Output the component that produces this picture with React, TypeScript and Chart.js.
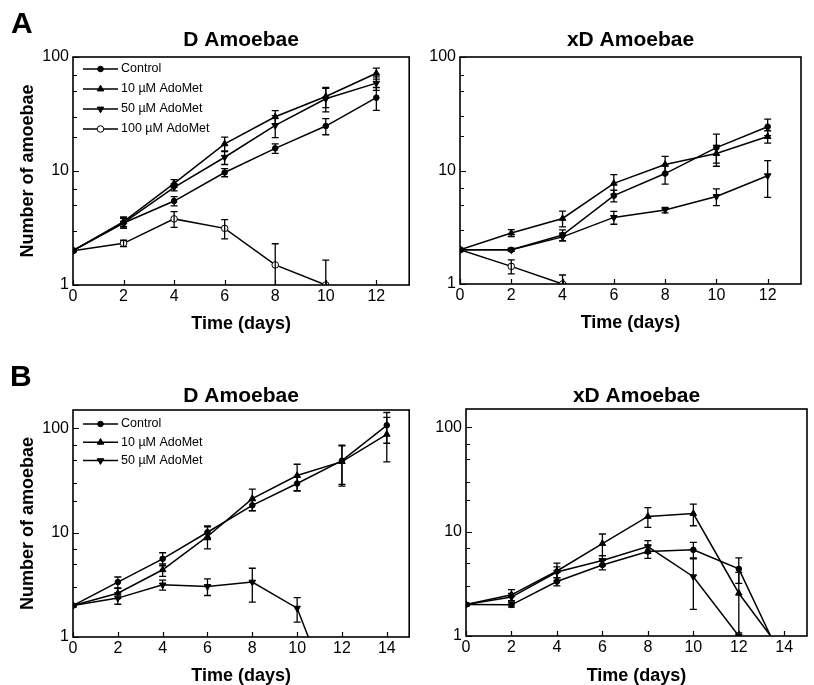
import React, { useEffect, useRef } from 'react';
import { Chart, registerables } from 'chart.js';

Chart.register(...registerables);

const FONT = "'Liberation Sans', Arial, Helvetica, sans-serif";

// ---------- tick labels ----------
const Y_TICKS = [1, 10, 100];
const Y_MINOR = [2, 3, 5, 7];
const X_TICKS_A = [0, 2, 4, 6, 8, 10, 12];
const X_TICKS_B = [0, 2, 4, 6, 8, 10, 12, 14];

// ---------- Panel A : D amoebae ----------
const DAYS_A = [0, 2, 4, 6, 8, 10, 12];
const A_D_CONTROL = [2, 3.5, 5.45, 9.7, 15.8, 24.8, 44];
const A_D_CONTROL_ERR = [0, 0.35, 0.5, 0.8, 1.5, 4, 10];
const A_D_10 = [2, 3.6, 7.8, 17.3, 29.9, 45, 72];
const A_D_10_ERR = [0, 0.35, 0.6, 2.5, 4, 9, 8];
const A_D_50 = [2, 3.5, 7.2, 13.2, 25.1, 43, 59];
const A_D_50_ERR = [0, 0.35, 0.5, 1.8, 5.5, 10, 8];
const A_D_100_DAYS = [0, 2, 4, 6, 8, 10];
const A_D_100 = [2, 2.32, 3.8, 3.14, 1.5, 1.0];
const A_D_100_ERR = [0, 0.15, 0.6, 0.6, 0.8, 0.65];

// ---------- Panel A : xD amoebae ----------
const A_XD_CONTROL = [2, 2.0, 2.7, 6.0, 9.4, 15.9, 24.3];
const A_XD_CONTROL_ERR = [0, 0.05, 0.3, 0.7, 1.8, 5, 4];
const A_XD_10 = [2, 2.81, 3.78, 7.7, 11.3, 14.1, 19.9];
const A_XD_10_ERR = [0, 0.2, 0.6, 1.5, 2, 2.5, 2.5];
const A_XD_50 = [2, 2.0, 2.6, 3.86, 4.49, 5.9, 9.0];
const A_XD_50_ERR = [0, 0.05, 0.2, 0.5, 0.25, 1, 3.2];
const A_XD_100_DAYS = [0, 2, 4];
const A_XD_100 = [2, 1.43, 1.0];
const A_XD_100_ERR = [0, 0.2, 0.2];

// ---------- Panel B : D amoebae ----------
const DAYS_B = [0, 2, 4, 6, 8, 10, 12, 14];
const B_D_CONTROL = [2, 3.36, 5.62, 10.1, 18.3, 29.6, 49, 107];
const B_D_CONTROL_ERR = [0, 0.4, 0.8, 1.5, 2, 4.5, 20, 35];
const B_D_10 = [2, 2.63, 4.41, 9.2, 21.2, 35.3, 48, 87.7];
const B_D_10_ERR = [0, 0.3, 0.6, 2.2, 5, 10, 20, 40];
const B_D_50_DAYS = [0, 2, 4, 6, 8, 10, 10.5];
const B_D_50 = [2, 2.36, 3.16, 3.05, 3.36, 1.89, 1];
const B_D_50_ERR = [0, 0.3, 0.35, 0.55, 1.2, 0.5, 0];

// ---------- Panel B : xD amoebae ----------
const B_XD_CONTROL_DAYS = [0, 2, 4, 6, 8, 10, 12, 13.4];
const B_XD_CONTROL = [2, 1.99, 3.33, 4.8, 6.46, 6.7, 4.4, 1];
const B_XD_CONTROL_ERR = [0, 0.1, 0.3, 0.5, 0.9, 1.2, 1.2, 0];
const B_XD_10_DAYS = [0, 2, 4, 6, 8, 10, 12, 13.4];
const B_XD_10 = [2, 2.48, 4.2, 7.7, 14.0, 14.9, 2.57, 1];
const B_XD_10_ERR = [0, 0.3, 0.8, 1.8, 3, 3.5, 1.5, 0];
const B_XD_50_DAYS = [0, 2, 4, 6, 8, 10, 12];
const B_XD_50 = [2, 2.36, 4.1, 5.3, 7.2, 3.7, 1.0];
const B_XD_50_ERR = [0, 0.2, 0.5, 0.6, 1.0, 1.9, 0];

const LABEL_CONTROL = 'Control';
const LABEL_10 = '10 µM AdoMet';
const LABEL_50 = '50 µM AdoMet';
const LABEL_100 = '100 µM AdoMet';

type Marker = 'circle' | 'up' | 'down' | 'open';

interface SeriesDef {
  label: string;
  days: number[];
  values: number[];
  errors: number[];
  marker: Marker;
  sampleDays: number[];
}

const MARKER_STYLE: Record<Marker, { style: string; rot: number; r: number; fill: string }> = {
  circle: { style: 'circle', rot: 0, r: 2.8, fill: '#000' },
  up: { style: 'triangle', rot: 0, r: 3.8, fill: '#000' },
  down: { style: 'triangle', rot: 180, r: 3.8, fill: '#000' },
  open: { style: 'circle', rot: 0, r: 3.3, fill: '#fff' },
};

function drawMarker(ctx: CanvasRenderingContext2D, m: Marker, x: number, y: number) {
  const s = MARKER_STYLE[m];
  ctx.save();
  ctx.fillStyle = s.fill;
  ctx.strokeStyle = '#000';
  ctx.lineWidth = 1;
  ctx.beginPath();
  if (s.style === 'circle') {
    ctx.arc(x, y, s.r, 0, Math.PI * 2);
  } else {
    let rad = (s.rot * Math.PI) / 180;
    ctx.moveTo(x + Math.sin(rad) * s.r, y - Math.cos(rad) * s.r);
    rad += (2 * Math.PI) / 3;
    ctx.lineTo(x + Math.sin(rad) * s.r, y - Math.cos(rad) * s.r);
    rad += (2 * Math.PI) / 3;
    ctx.lineTo(x + Math.sin(rad) * s.r, y - Math.cos(rad) * s.r);
    ctx.closePath();
  }
  ctx.fill();
  ctx.stroke();
  ctx.restore();
}

const CAP = 3.5;

const paperPlugin = {
  id: 'paperPlugin',
  afterDatasetsDraw(chart: any) {
    const { ctx, chartArea: a } = chart;
    const xs = chart.scales.x;
    const ys = chart.scales.y;
    ctx.save();
    ctx.beginPath();
    ctx.rect(a.left, a.top - 1, a.right - a.left, a.bottom - a.top + 1);
    ctx.clip();
    ctx.strokeStyle = '#000';
    ctx.lineWidth = 1.3;
    chart.data.datasets.forEach((ds: any) => {
      const errs: number[] = ds.errors || [];
      ds.data.forEach((p: any, j: number) => {
        const e = errs[j];
        if (!e) return;
        const px = xs.getPixelForValue(p.x);
        const top = ys.getPixelForValue(p.y + e);
        const lo = p.y - e;
        const bot = lo > 0 ? ys.getPixelForValue(lo) : a.bottom + 20;
        ctx.beginPath();
        ctx.moveTo(px, top);
        ctx.lineTo(px, bot);
        ctx.moveTo(px - CAP, top);
        ctx.lineTo(px + CAP, top);
        ctx.moveTo(px - CAP, bot);
        ctx.lineTo(px + CAP, bot);
        ctx.stroke();
      });
    });
    ctx.restore();
  },
  afterDraw(chart: any, _args: any, opts: any) {
    const { ctx, chartArea: a } = chart;
    const xs = chart.scales.x;
    const ys = chart.scales.y;
    ctx.save();
    ctx.strokeStyle = '#000';
    ctx.lineWidth = 1.2;
    ctx.beginPath();
    xs.ticks.forEach((t: any) => {
      const px = Math.round(xs.getPixelForValue(t.value)) + 0.5;
      ctx.moveTo(px, a.bottom);
      ctx.lineTo(px, a.bottom - 5);
    });
    ys.ticks.forEach((t: any) => {
      const py = Math.round(ys.getPixelForValue(t.value)) + 0.5;
      ctx.moveTo(a.left, py);
      ctx.lineTo(a.left + 6, py);
    });
    for (let d = 1; d < ys.max; d *= 10) {
      Y_MINOR.forEach((m) => {
        const v = m * d;
        if (v >= ys.max) return;
        const py = Math.round(ys.getPixelForValue(v)) + 0.5;
        ctx.moveTo(a.left, py);
        ctx.lineTo(a.left + 4, py);
      });
    }
    ctx.stroke();
    ctx.lineWidth = 1.6;
    ctx.strokeRect(a.left, a.top, a.right - a.left, a.bottom - a.top);

    if (opts && opts.legend) {
      const L = opts.legend;
      ctx.font = `12.5px ${FONT}`;
      ctx.fillStyle = '#000';
      ctx.textBaseline = 'middle';
      ctx.textAlign = 'left';
      const items = chart.data.datasets.filter((d: any) => d.inLegend);
      items.forEach((d: any, i: number) => {
        const y = a.top + L.top + i * L.gap;
        ctx.lineWidth = 1.5;
        ctx.beginPath();
        ctx.moveTo(a.left + 10, y);
        ctx.lineTo(a.left + 45, y);
        ctx.stroke();
        drawMarker(ctx, d.marker, a.left + 27.5, y);
        ctx.fillStyle = '#000';
        ctx.fillText(d.label, a.left + 48, y);
      });
    }
    ctx.restore();
  },
};

interface PanelDef {
  left: number;
  top: number;
  w: number;
  h: number;
  title: string;
  padRight: number;
  titlePadTop: number;
  titlePadBottom: number;
  yWidth: number;
  xHeight: number;
  xTitlePadBottom: number;
  yTitle: boolean;
  xMax: number;
  yMax: number;
  xTicks: number[];
  series: SeriesDef[];
  legend: { top: number; gap: number };
}

function buildConfig(p: PanelDef): any {
  const datasets = p.series.map((s) => {
    const ms = MARKER_STYLE[s.marker];
    return {
      label: s.label,
      inLegend: true,
      marker: s.marker,
      errors: s.errors,
      data: s.days.map((d, i) => ({ x: d, y: s.values[i] })),
      borderColor: '#000',
      borderWidth: 1.5,
      tension: 0,
      pointStyle: ms.style,
      pointRotation: ms.rot,
      pointRadius: s.days.map((d) => (s.sampleDays.includes(d) ? ms.r : 0)),
      pointHoverRadius: 0,
      pointBackgroundColor: ms.fill,
      pointBorderColor: '#000',
      pointBorderWidth: 1,
      fill: false,
    };
  });
  return {
    type: 'line',
    data: { datasets },
    plugins: [paperPlugin],
    options: {
      responsive: false,
      animation: false,
      devicePixelRatio: 1,
      layout: { padding: { left: 0, right: p.padRight, top: 0, bottom: 0 } },
      plugins: {
        legend: { display: false },
        tooltip: { enabled: false },
        title: {
          display: true,
          text: p.title,
          fullSize: false,
          color: '#000',
          font: { family: FONT, size: 21, weight: 'bold', lineHeight: 1.2 },
          padding: { top: p.titlePadTop, bottom: p.titlePadBottom },
        },
        paperPlugin: { legend: p.legend },
      },
      scales: {
        x: {
          type: 'linear',
          min: 0,
          max: p.xMax,
          offset: false,
          grid: { display: false, drawTicks: false },
          border: { display: false },
          ticks: {
            color: '#000',
            font: { family: FONT, size: 16 },
            padding: 1.5,
            autoSkip: false,
            maxRotation: 0,
            callback: (v: any) => String(v),
          },
          afterBuildTicks: (s: any) => {
            s.ticks = p.xTicks.map((v) => ({ value: v }));
          },
          afterFit: (s: any) => {
            s.height = p.xHeight;
          },
          title: {
            display: true,
            text: 'Time (days)',
            color: '#000',
            font: { family: FONT, size: 18, weight: 'bold', lineHeight: 1 },
            padding: { top: 0, bottom: p.xTitlePadBottom },
          },
        },
        y: {
          type: 'logarithmic',
          min: 1,
          max: p.yMax,
          grid: { display: false, drawTicks: false },
          border: { display: false },
          ticks: {
            color: '#000',
            font: { family: FONT, size: 16 },
            padding: 4,
            autoSkip: false,
            callback: (v: any) => String(v),
          },
          afterBuildTicks: (s: any) => {
            s.ticks = Y_TICKS.filter((v) => v <= p.yMax).map((v) => ({ value: v }));
          },
          afterFit: (s: any) => {
            s.width = p.yWidth;
          },
          title: {
            display: p.yTitle,
            text: 'Number of amoebae',
            color: '#000',
            font: { family: FONT, size: 18, weight: 'bold', lineHeight: 1 },
            padding: { top: 19, bottom: 0 },
          },
        },
      },
    },
  };
}

const PANELS: PanelDef[] = [
  {
    left: 0, top: 0, w: 414, h: 340, title: 'D Amoebae', padRight: 4,
    titlePadTop: 28, titlePadBottom: 3.8, yWidth: 73, xHeight: 55, xTitlePadBottom: 7,
    yTitle: true, xMax: 13.3, yMax: 100, xTicks: X_TICKS_A,
    legend: { top: 12, gap: 20 },
    series: [
      { label: LABEL_CONTROL, days: DAYS_A, values: A_D_CONTROL, errors: A_D_CONTROL_ERR, marker: 'circle', sampleDays: DAYS_A },
      { label: LABEL_10, days: DAYS_A, values: A_D_10, errors: A_D_10_ERR, marker: 'up', sampleDays: DAYS_A },
      { label: LABEL_50, days: DAYS_A, values: A_D_50, errors: A_D_50_ERR, marker: 'down', sampleDays: DAYS_A },
      { label: LABEL_100, days: A_D_100_DAYS, values: A_D_100, errors: A_D_100_ERR, marker: 'open', sampleDays: DAYS_A },
    ],
  },
  {
    left: 414, top: 0, w: 400, h: 340, title: 'xD Amoebae', padRight: 13,
    titlePadTop: 28, titlePadBottom: 3.8, yWidth: 46, xHeight: 56, xTitlePadBottom: 8,
    yTitle: false, xMax: 13.3, yMax: 100, xTicks: X_TICKS_A,
    legend: null as any,
    series: [
      { label: LABEL_CONTROL, days: DAYS_A, values: A_XD_CONTROL, errors: A_XD_CONTROL_ERR, marker: 'circle', sampleDays: DAYS_A },
      { label: LABEL_10, days: DAYS_A, values: A_XD_10, errors: A_XD_10_ERR, marker: 'up', sampleDays: DAYS_A },
      { label: LABEL_50, days: DAYS_A, values: A_XD_50, errors: A_XD_50_ERR, marker: 'down', sampleDays: DAYS_A },
      { label: LABEL_100, days: A_XD_100_DAYS, values: A_XD_100, errors: A_XD_100_ERR, marker: 'open', sampleDays: DAYS_A },
    ],
  },
  {
    left: 0, top: 340, w: 414, h: 345, title: 'D Amoebae', padRight: 4,
    titlePadTop: 43.4, titlePadBottom: 1.4, yWidth: 73, xHeight: 48, xTitlePadBottom: 0,
    yTitle: true, xMax: 15, yMax: 150, xTicks: X_TICKS_B,
    legend: { top: 14, gap: 18.3 },
    series: [
      { label: LABEL_CONTROL, days: DAYS_B, values: B_D_CONTROL, errors: B_D_CONTROL_ERR, marker: 'circle', sampleDays: DAYS_B },
      { label: LABEL_10, days: DAYS_B, values: B_D_10, errors: B_D_10_ERR, marker: 'up', sampleDays: DAYS_B },
      { label: LABEL_50, days: B_D_50_DAYS, values: B_D_50, errors: B_D_50_ERR, marker: 'down', sampleDays: DAYS_B },
    ],
  },
  {
    left: 414, top: 340, w: 400, h: 345, title: 'xD Amoebae', padRight: 7,
    titlePadTop: 43.4, titlePadBottom: 0.4, yWidth: 52, xHeight: 49, xTitlePadBottom: 0,
    yTitle: false, xMax: 15, yMax: 150, xTicks: X_TICKS_B,
    legend: null as any,
    series: [
      { label: LABEL_CONTROL, days: B_XD_CONTROL_DAYS, values: B_XD_CONTROL, errors: B_XD_CONTROL_ERR, marker: 'circle', sampleDays: DAYS_B },
      { label: LABEL_10, days: B_XD_10_DAYS, values: B_XD_10, errors: B_XD_10_ERR, marker: 'up', sampleDays: DAYS_B },
      { label: LABEL_50, days: B_XD_50_DAYS, values: B_XD_50, errors: B_XD_50_ERR, marker: 'down', sampleDays: DAYS_B },
    ],
  },
];

function Panel({ def }: { def: PanelDef }) {
  const ref = useRef<HTMLCanvasElement>(null);
  useEffect(() => {
    if (!ref.current) return;
    const chart = new Chart(ref.current, buildConfig(def));
    return () => chart.destroy();
  }, [def]);
  return (
    <canvas
      ref={ref}
      width={def.w}
      height={def.h}
      style={{ position: 'absolute', left: def.left, top: def.top, width: def.w, height: def.h }}
    />
  );
}

const letterStyle: React.CSSProperties = {
  position: 'absolute',
  fontFamily: FONT,
  fontWeight: 'bold',
  fontSize: 30,
  lineHeight: '30px',
  color: '#000',
};

export default function App() {
  return (
    <div style={{ position: 'absolute', left: 0, top: 0, width: 814, height: 685, background: '#fff', overflow: 'hidden' }}>
      {PANELS.map((p, i) => (
        <Panel key={i} def={p} />
      ))}
      <div style={{ ...letterStyle, left: 11, top: 8 }}>A</div>
      <div style={{ ...letterStyle, left: 10, top: 361 }}>B</div>
    </div>
  );
}
